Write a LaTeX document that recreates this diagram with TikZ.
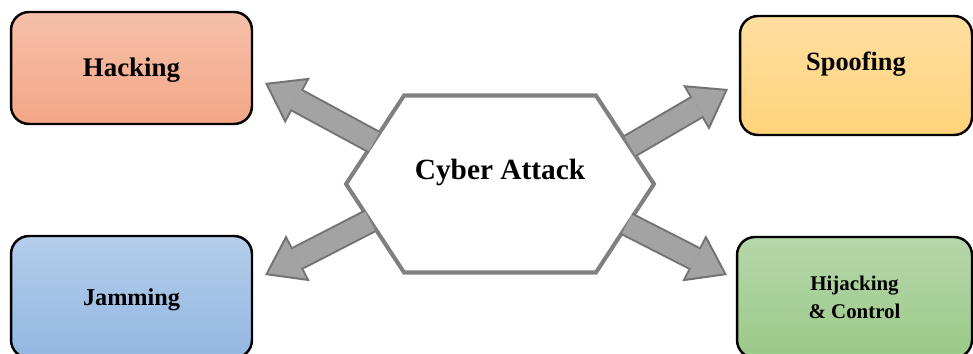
\documentclass[tikz,border=0pt]{standalone}
\usepackage{fontspec}
\setmainfont{Liberation Serif}
\usetikzlibrary{shapes.symbols, arrows.meta}

\definecolor{hackTop}{RGB}{246,192,170}
\definecolor{hackBot}{RGB}{244,166,134}
\definecolor{spoofTop}{RGB}{255,222,160}
\definecolor{spoofBot}{RGB}{255,211,122}
\definecolor{jamTop}{RGB}{180,205,234}
\definecolor{jamBot}{RGB}{147,183,226}
\definecolor{hijackTop}{RGB}{182,215,170}
\definecolor{hijackBot}{RGB}{155,201,136}
\definecolor{hexGray}{RGB}{128,128,128}
\definecolor{arrowFill}{RGB}{163,163,163}
\definecolor{arrowLine}{RGB}{115,115,115}

\begin{document}
\begin{tikzpicture}[x=0.02cm, y=-0.02cm,
  box/.style={draw=black, line width=1.4pt, rounded corners=0.36cm, align=center, inner sep=0pt},
  hexa/.style={signal, signal to=east and west, signal pointer angle=113.5, draw=hexGray, line width=2.3pt, fill=white, inner sep=0pt},
  arrowback/.style={draw=arrowLine, line width=0.5cm, -{Triangle[length=0.74cm, width=1.04cm, line width=0pt]}},
  arrowfront/.style={draw=arrowFill, line width=0.42cm, shorten >=0.07cm, -{Triangle[length=0.63cm, width=0.88cm, line width=0pt]}}]
\useasboundingbox (0,0) rectangle (973,354);

% the four attack types
\node[box, top color=hackTop, bottom color=hackBot, minimum width=4.82cm, minimum height=2.24cm,
  text height=0.36cm, text depth=0cm, font=\fontsize{15.3}{18}\selectfont\bfseries] (hacking) at (131.5,68) {Hacking};
\node[box, top color=spoofTop, bottom color=spoofBot, minimum width=4.64cm, minimum height=2.38cm,
  text height=0.36cm, text depth=0.54cm, font=\fontsize{15}{18}\selectfont\bfseries] (spoofing) at (856,75.5) {Spoofing};
\node[box, top color=jamTop, bottom color=jamBot, minimum width=4.82cm, minimum height=2.44cm,
  text height=0.34cm, text depth=0cm, font=\fontsize{13.8}{16}\selectfont\bfseries] (jamming) at (131.5,297) {Jamming};
\node[box, top color=hijackTop, bottom color=hijackBot, minimum width=4.70cm, minimum height=2.42cm,
  font=\fontsize{11.9}{15.9}\selectfont\bfseries] (hijacking) at (854.5,297.5) {Hijacking\\ \& Control};

% centre
\node[hexa, minimum width=6.16cm, minimum height=3.54cm, text height=0.4cm, text depth=0.56cm,
  font=\fontsize{16.7}{20}\selectfont\bfseries] (attack) at (500,184) {Cyber Attack};

% arrow ends
\coordinate (hackS) at (374,142); \coordinate (hackT) at (265,83);
\coordinate (spoofS) at (630,146); \coordinate (spoofT) at (728,89);
\coordinate (jamS) at (370,221); \coordinate (jamT) at (265,275);
\coordinate (hijackS) at (627,224); \coordinate (hijackT) at (727,275);

\foreach \a in {hack,spoof,jam,hijack}{
  \draw[arrowback] (\a S) -- (\a T);
  \draw[arrowfront] (\a S) -- (\a T);
}
\end{tikzpicture}
\end{document}
